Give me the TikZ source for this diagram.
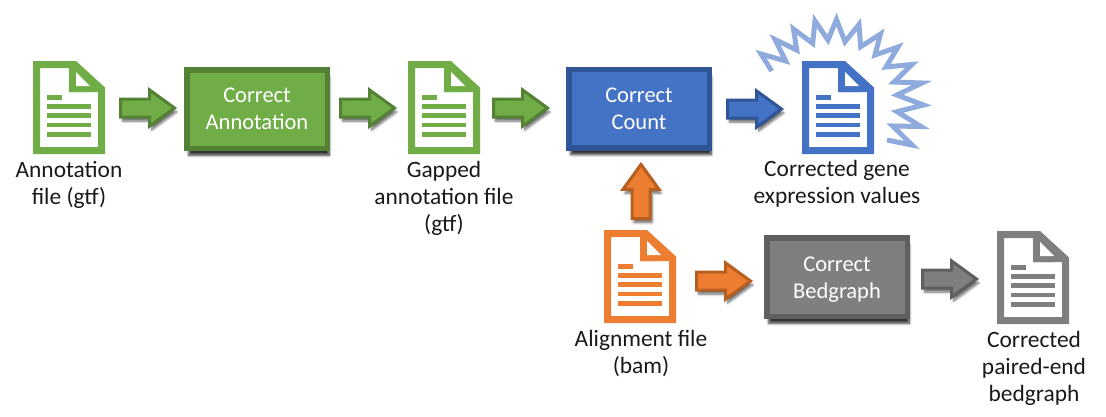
\documentclass[tikz,border=0pt]{standalone}
\usepackage{fontspec}
\setmainfont{Carlito}
\usetikzlibrary{shapes.arrows,shadows.blur}
\definecolor{grnF}{HTML}{70AD47}\definecolor{grnD}{HTML}{548235}
\definecolor{bluF}{HTML}{4472C4}\definecolor{bluD}{HTML}{2F5597}
\definecolor{orgF}{HTML}{ED7D31}\definecolor{orgD}{HTML}{B85E1F}
\definecolor{gryF}{HTML}{7F7F7F}\definecolor{gryD}{HTML}{5F5F5F}
\definecolor{burst}{HTML}{8FAADC}
\tikzset{
  boxshadow/.style={blur shadow={shadow xshift=2pt,shadow yshift=-7pt,shadow blur radius=2.5pt,shadow blur steps=6,shadow opacity=80}},
  arrshadow/.style={blur shadow={shadow xshift=2pt,shadow yshift=-4pt,shadow blur radius=2.5pt,shadow blur steps=6,shadow opacity=60}},
  procbox/.style={draw=#1D,fill=#1F,line width=5.5pt,minimum width=140.5pt,minimum height=78.5pt,inner sep=0pt,outer sep=0pt,
    text=white,align=center,font=\fontsize{22.5pt}{27pt}\selectfont,boxshadow},
  flow/.style={single arrow,draw=#1D,fill=#1F,line width=3pt,inner xsep=0pt,inner ysep=7.5pt,outer sep=0pt,
    text height=0pt,text depth=0pt,anchor=tip,
    minimum width=35pt,minimum height=54pt,single arrow head extend=9pt,single arrow tip angle=72,single arrow head indent=0pt,
    arrshadow},
  lbl/.style={align=center,inner sep=0pt,text=black!90,font=\fontsize{23.4pt}{27pt}\selectfont},
  pics/docicon/.style={code={
    \fill[#1,even odd rule] (0,0) -- (43,0) -- (72,26.5) -- (72,93) -- (0,93) -- cycle
       (7,7) -- (7,93-7) -- (65,93-7) -- (65,31) -- (36,31) -- (36,7) -- cycle;
    \fill[#1] (43,7.5) -- (43,25) -- (36,25) -- (36,7) -- cycle;
    \fill[#1] (43,7) -- (43,11) -- (61,25) -- (58,31) -- (36,31) -- (36,7) -- cycle;
    \fill[white] (43,11) -- (43,25) -- (57,25) -- cycle;
    \fill[#1] (14,34) rectangle (29,38.5);
    \foreach \yy in {43,52,61.5,71}{\fill[#1] (14,\yy) rectangle (58,\yy+4.5);}
  }}
}
\begin{document}
\begin{tikzpicture}[x=1pt,y=-1pt]
\useasboundingbox (0,0) rectangle (1106,416);
% burst
\draw[burst,line width=5pt,miter limit=10,line join=miter]
 (771.7,71) -- (761,54) -- (785.7,61) -- (775,39.5) -- (796.7,50) -- (793.5,29) -- (812.7,43.3)
 -- (815,21) -- (828,40) -- (836.5,19.5) -- (845,41.7) -- (859,24.5) -- (860.7,46.7) -- (880.5,34)
 -- (875,55) -- (898,47) -- (886,67) -- (912,64.5) -- (894,82) -- (922,83) -- (897,95)
 -- (923.5,105) -- (897,111.7) -- (921,126.5) -- (892.7,126) -- (912,145) -- (887,140);
% documents
\pic (docA) at (33,61) {docicon=grnF};
\pic (docB) at (408,61) {docicon=grnF};
\pic (docC) at (802,61) {docicon=bluF};
\pic (docD) at (604,230) {docicon=orgF};
\pic (docE) at (997,231) {docicon=gryF};
% process boxes
\node[procbox=grn] (boxA) at (257,109) {Correct\\Annotation};
\node[procbox=blu] (boxB) at (639,108.5) {Correct\\Count};
\node[procbox=gry] (boxC) at (837,277) {};
\node[align=center,inner sep=0pt,text=white,font=\fontsize{22.5pt}{27pt}\selectfont] (txtC) at (837,279.5) {Correct\\Bedgraph};
% block arrows
\node[flow=grn] (arrA) at (174.5,108) {};
\node[flow=grn] (arrB) at (394.5,108) {};
\node[flow=grn] (arrC) at (547.5,108) {};
\node[flow=blu] (arrD) at (781.5,109) {};
\node[flow=org,rotate=90] (arrE) at (641,164.5) {};
\node[flow=org] (arrF) at (750.5,281) {};
\node[flow=gry] (arrG) at (976.5,279) {};
% labels
\node[lbl] (lblA) at (69,184.5) {Annotation\\file (gtf)};
\node[lbl] (lblB) at (444,198) {Gapped\\annotation file\\(gtf)};
\node[lbl] (lblC) at (837,183.5) {Corrected gene\\expression values};
\node[lbl] (lblD) at (641,353) {Alignment file\\(bam)};
\node[lbl] (lblE) at (1034,368) {Corrected\\paired-end\\bedgraph};
\end{tikzpicture}
\end{document}
